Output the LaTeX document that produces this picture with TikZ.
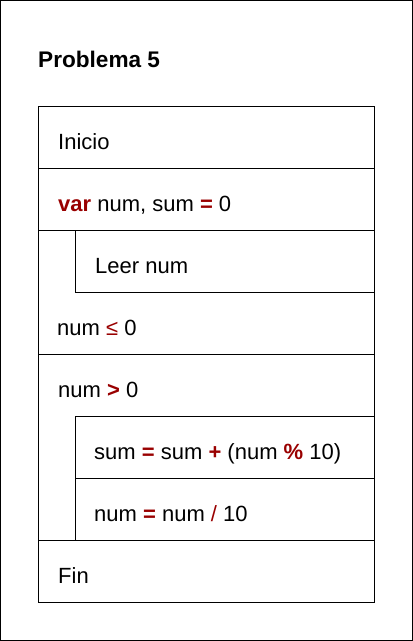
\documentclass[tikz,border=0pt]{standalone}
\usepackage{fontspec}
\setmainfont{Liberation Sans}
\definecolor{kw}{HTML}{990000}
\newcommand{\kwd}[1]{\textcolor{kw}{\textbf{#1}}}
\newcommand{\kwl}[1]{\textcolor{kw}{#1}}
\begin{document}
\begin{tikzpicture}[x=1pt,y=-1pt,
  box/.style={draw=black,line width=1pt,rectangle,inner sep=0pt,anchor=north west},
  txt/.style={anchor=base west,inner sep=0pt,font=\fontsize{22}{26}\selectfont}]
\useasboundingbox (0,0) rectangle (413,641);
\draw[line width=1pt] (0.5,0.5) rectangle (412.5,640.5);
\node[txt,font=\fontsize{22.6}{26}\selectfont\bfseries] (title) at (38,67) {Problema 5};
% blocks
\node[box,minimum width=336pt,minimum height=62pt] (inicio) at (38,106) {};
\node[box,minimum width=336pt,minimum height=62pt] (var) at (38,168) {};
\node[box,minimum width=336pt,minimum height=124pt] (loopa) at (38,230) {};
\node[box,minimum width=299pt,minimum height=62pt] (leer) at (75,230) {};
\node[box,minimum width=336pt,minimum height=186pt] (loopb) at (38,354) {};
\node[box,minimum width=299pt,minimum height=62pt] (sumb) at (75,416) {};
\node[box,minimum width=299pt,minimum height=62pt] (divb) at (75,478) {};
\node[box,minimum width=336pt,minimum height=62pt] (fin) at (38,540) {};
% texts
\node[txt] (t1) at (58,149) {Inicio};
\node[txt] (t2) at (58,211) {\kwd{var} num, sum \kwd{=} 0};
\node[txt] (t3) at (95,273) {Leer num};
\node[txt] (t4) at (57,335) {num \kwl{≤} 0};
\node[txt] (t5) at (58,397) {num \kwd{>} 0};
\node[txt] (t6) at (94,459) {sum \kwd{=} sum \kwd{+} (num \kwd{\%} 10)};
\node[txt] (t7) at (94,521) {num \kwd{=} num \kwl{/} 10};
\node[txt] (t8) at (58,583) {Fin};
\end{tikzpicture}
\end{document}
